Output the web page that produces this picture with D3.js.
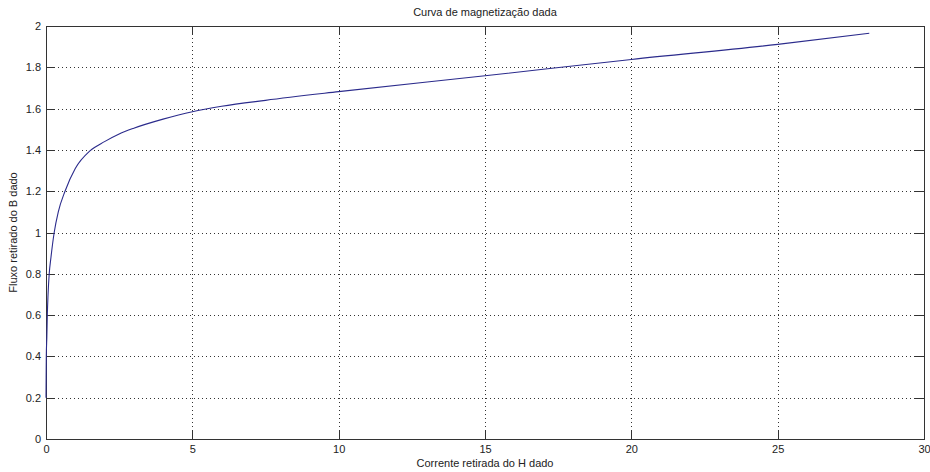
<!DOCTYPE html>
<html>
<head>
<meta charset="utf-8">
<script src="https://cdn.jsdelivr.net/npm/d3@7"></script>
<style>
  html, body { margin: 0; padding: 0; background: #fff; }
  svg text { font-family: "Liberation Sans", Arial, sans-serif; font-size: 11px; fill: #222; }
</style>
</head>
<body>
<svg id="chart" width="930" height="472"></svg>
<script>
// Magnetization curve: current H (x) and flux B (y)
const hValues = [0, 0.005, 0.01, 0.03, 0.045, 0.07, 0.11, 0.17, 0.28, 0.42, 0.65, 1.0, 1.5, 2.0, 2.5, 3.0, 4.0, 5.0, 6.0, 7.5, 10, 15, 20, 25, 28.13];
const bValues = [0.2, 0.3, 0.4, 0.5, 0.6, 0.7, 0.8, 0.88, 1.0, 1.1, 1.2, 1.31, 1.395, 1.44, 1.477, 1.505, 1.549, 1.585, 1.611, 1.640, 1.682, 1.759, 1.838, 1.911, 1.965];
const xTicks = [0, 5, 10, 15, 20, 25, 30];
const yTicks = [0, 0.2, 0.4, 0.6, 0.8, 1, 1.2, 1.4, 1.6, 1.8, 2];

const titleText = "Curva de magnetização dada";
const xLabelText = "Corrente retirada do H dado";
const yLabelText = "Fluxo retirado do B dado";

const svg = d3.select("#chart");
const plotLeft = 46, plotRight = 924, plotTop = 26, plotBottom = 439;
const tickLen = 9;

const x = d3.scaleLinear().domain([0, 30]).range([plotLeft, plotRight]);
const y = d3.scaleLinear().domain([0, 2]).range([plotBottom, plotTop]);

// grid lines
const grid = svg.append("g").attr("stroke", "#333").attr("stroke-width", 1)
  .attr("stroke-dasharray", "1,3").attr("shape-rendering", "crispEdges");
grid.selectAll(".gx").data(xTicks.slice(1, -1)).join("line")
  .attr("x1", d => Math.round(x(d)) + 0.5).attr("x2", d => Math.round(x(d)) + 0.5)
  .attr("y1", plotTop).attr("y2", plotBottom);
grid.selectAll(".gy").data(yTicks.slice(1, -1)).join("line")
  .attr("y1", d => Math.round(y(d)) + 0.5).attr("y2", d => Math.round(y(d)) + 0.5)
  .attr("x1", plotLeft).attr("x2", plotRight);

// axes with inward ticks on all four sides
function styleAxis(g) {
  g.select(".domain").remove();
  g.selectAll(".tick line").attr("stroke", "#333").attr("shape-rendering", "crispEdges");
  g.selectAll(".tick text").style("font-family", '"Liberation Sans", Arial, sans-serif')
    .style("font-size", "11px").attr("fill", "#333");
}
svg.append("g").attr("transform", `translate(0,${plotBottom})`)
  .call(d3.axisBottom(x).tickValues(xTicks).tickFormat(d3.format("d"))
    .tickSizeInner(-tickLen).tickSizeOuter(0))
  .call(styleAxis).selectAll(".tick text").attr("dy", "0.71em").attr("y", 6);
svg.append("g").attr("transform", `translate(0,${plotTop})`)
  .call(d3.axisTop(x).tickValues(xTicks).tickSizeInner(-tickLen).tickSizeOuter(0).tickFormat(""))
  .call(styleAxis);
svg.append("g").attr("transform", `translate(${plotLeft},0)`)
  .call(d3.axisLeft(y).tickValues(yTicks).tickFormat(d => d3.format("~g")(d))
    .tickSizeInner(-tickLen).tickSizeOuter(0))
  .call(styleAxis).selectAll(".tick text").attr("x", -5);
svg.append("g").attr("transform", `translate(${plotRight},0)`)
  .call(d3.axisRight(y).tickValues(yTicks).tickSizeInner(-tickLen).tickSizeOuter(0).tickFormat(""))
  .call(styleAxis);

// box
svg.append("rect").attr("x", plotLeft + 0.5).attr("y", plotTop + 0.5)
  .attr("width", plotRight - plotLeft).attr("height", plotBottom - plotTop)
  .attr("fill", "none").attr("stroke", "#333").attr("shape-rendering", "crispEdges");

// curve
const pts = hValues.map((h, i) => [h, bValues[i]]);
const line = d3.line().x(d => x(d[0])).y(d => y(d[1])).curve(d3.curveMonotoneX);
svg.append("path").datum(pts).attr("d", line)
  .attr("fill", "none").attr("stroke", "#2b2b8c").attr("stroke-width", 1.1);

// title and axis labels
svg.append("text").attr("x", (plotLeft + plotRight) / 2).attr("y", 16)
  .attr("text-anchor", "middle").text(titleText);
svg.append("text").attr("x", (plotLeft + plotRight) / 2).attr("y", 467)
  .attr("text-anchor", "middle").text(xLabelText);
svg.append("text").attr("transform", `translate(17,${(plotTop + plotBottom) / 2}) rotate(-90)`)
  .attr("text-anchor", "middle").text(yLabelText);
</script>
</body>
</html>
